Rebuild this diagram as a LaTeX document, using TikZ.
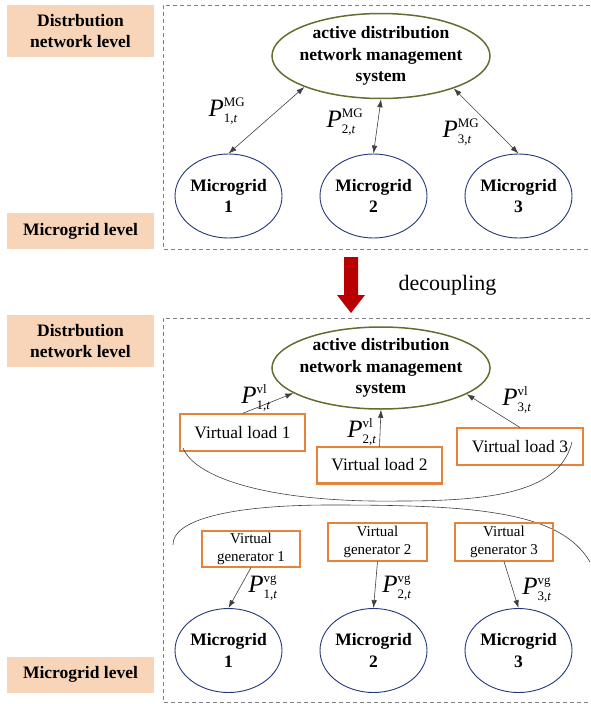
\documentclass[tikz,border=0pt]{standalone}
\usepackage{fontspec}
\usepackage{amsmath}
\setmainfont{Liberation Serif}
\usetikzlibrary{shapes.geometric,arrows.meta}
\definecolor{peach}{HTML}{F8D5B8}
\definecolor{olivec}{HTML}{5F6F2F}
\definecolor{bluec}{HTML}{23387A}
\definecolor{orangec}{HTML}{E5823C}
\definecolor{linec}{HTML}{404040}
\definecolor{dashc}{HTML}{808080}
\definecolor{redc}{HTML}{B80000}
\newcommand{\scr}[1]{\text{\fontsize{13}{13}\selectfont #1}}
\newcommand{\pl}[2]{$\textit{P}^{\scr{#1}}_{\scr{#2,\textit{t}}}$}
\begin{document}
\begin{tikzpicture}[x=1pt,y=-1pt,
 lvl/.style={fill=peach, minimum width=147pt, inner sep=0pt, align=center, font=\fontsize{17.5}{21}\selectfont\bfseries},
 adnbox/.style={ellipse, draw=olivec, line width=1.5pt, minimum width=218pt, minimum height=85pt, inner sep=0pt,
   label={[align=center,font=\fontsize{17.5}{21.5}\selectfont\bfseries]center:active distribution\\network management\\system}},
 mgbox/.style={ellipse, draw=bluec, line width=0.9pt, minimum width=107pt, minimum height=84pt, inner sep=0pt,
   label={[align=center,font=\fontsize{17.5}{21.5}\selectfont\bfseries]center:Microgrid\\#1}},
 vbox/.style={draw=orangec, line width=1.1pt, inner sep=0pt, align=center},
 conn/.style={draw=linec, line width=0.6pt},
 arrowone/.style={-{Latex[length=8pt,width=5.5pt]}},
 arrowtwo/.style={{Latex[length=8pt,width=5.5pt]}-{Latex[length=8pt,width=5.5pt]}},
 dashbox/.style={draw=dashc, line width=0.8pt, dash pattern=on 4pt off 3pt},
 plab/.style={font=\fontsize{25}{29}\selectfont, inner sep=0pt}
]
\useasboundingbox (0,0) rectangle (590,704);

% ---------- top section ----------
\draw[dashbox] (590,5) -- (163,5) -- (163,249) -- (590,249);
\node[lvl, minimum height=52pt] (lvlA) at (80.5,31) {Distrbution\\network level};
\node[lvl, minimum height=36pt] (lvlB) at (80.5,231) {Microgrid level};

\node[adnbox] (adnA) at (381,56) {};
\node[mgbox=1] (mgA1) at (228.5,196) {};
\node[mgbox=2] (mgA2) at (373.5,196) {};
\node[mgbox=3] (mgA3) at (518.5,196) {};

\draw[conn,arrowtwo] (adnA.202) -- (mgA1.north);
\draw[conn,arrowtwo] (adnA.south) -- (mgA2.north);
\draw[conn,arrowtwo] (adnA.-24) -- (mgA3.north);

\node[plab] (pA1) at (227,111) {\pl{MG}{1}};
\node[plab] (pA2) at (345,122) {\pl{MG}{2}};
\node[plab] (pA3) at (461,132) {\pl{MG}{3}};

% ---------- decoupling ----------
\fill[redc] (344,257) -- (358,257) -- (358,295) -- (365,295) -- (351,313) -- (337,295) -- (344,295) -- cycle;
\node[anchor=base, font=\fontsize{22}{26}\selectfont, inner sep=0pt] (dec) at (447.5,290) {decoupling};

% ---------- bottom section ----------
\draw[dashbox] (590,318) -- (163,318) -- (163,702) -- (590,702);
\node[lvl, minimum height=52pt] (lvlC) at (80.5,341) {Distrbution\\network level};
\node[lvl, minimum height=36pt] (lvlD) at (80.5,674.5) {Microgrid level};

\node[adnbox, minimum height=82pt] (adnB) at (381,368) {};

\node[vbox, minimum width=125pt, minimum height=37pt, font=\fontsize{17.5}{21}\selectfont] (vl1) at (242.5,432.5) {Virtual load 1};
\node[vbox, minimum width=125pt, minimum height=36pt, font=\fontsize{17.5}{21}\selectfont] (vl2) at (379.5,465) {Virtual load 2};
\node[vbox, minimum width=126pt, minimum height=37pt, font=\fontsize{17.5}{21}\selectfont] (vl3) at (520,446.5) {Virtual load 3};
\draw[orangec, line width=2pt] (vl2.south west) -- (vl2.south east);

\draw[conn,arrowone] (vl1.north) -- (adnB.196);
\draw[conn,arrowone] (vl2.north) -- (adnB.south);
\draw[conn,arrowone] (vl3.north) -- (adnB.-17);

\node[plab] (pB1) at (256,398) {\pl{vl}{1}};
\node[plab] (pB2) at (362,432) {\pl{vl}{2}};
\node[plab] (pB3) at (517,400) {\pl{vl}{3}};

% braces
\coordinate (c1s) at (183,448);
\coordinate (c1m) at (400,501);
\coordinate (c1e) at (572,442);
\draw[conn] (c1s) .. controls (195,478) and (270,503) .. (c1m) .. controls (500,501) and (560,490) .. (c1e);
\coordinate (c2s) at (173,545);
\coordinate (c2m) at (330,505);
\coordinate (c2e) at (590,562);
\draw[conn] (c2s) .. controls (172,520) and (230,505) .. (c2m) .. controls (470,505) and (560,510) .. (c2e);

\node[vbox, minimum width=98pt, minimum height=36pt, font=\fontsize{15}{18}\selectfont] (vg1) at (251,549) {Virtual\\generator 1};
\node[vbox, minimum width=99pt, minimum height=38pt, font=\fontsize{15}{18}\selectfont] (vg2) at (377.5,542) {Virtual\\generator 2};
\node[vbox, minimum width=98pt, minimum height=38pt, font=\fontsize{15}{18}\selectfont] (vg3) at (504,542) {Virtual\\generator 3};

\node[mgbox=1] (mgB1) at (228.5,650.5) {};
\node[mgbox=2] (mgB2) at (373.5,650.5) {};
\node[mgbox=3] (mgB3) at (518.5,650.5) {};

\draw[conn,arrowone] (vg1.south) -- (mgB1.north);
\draw[conn,arrowone] (vg2.south) -- (mgB2.north);
\draw[conn,arrowone] (vg3.south) -- (mgB3.north);

\node[plab] (pC1) at (263,588) {\pl{vg}{1}};
\node[plab] (pC2) at (397,588) {\pl{vg}{2}};
\node[plab] (pC3) at (537,590) {\pl{vg}{3}};
\end{tikzpicture}
\end{document}
